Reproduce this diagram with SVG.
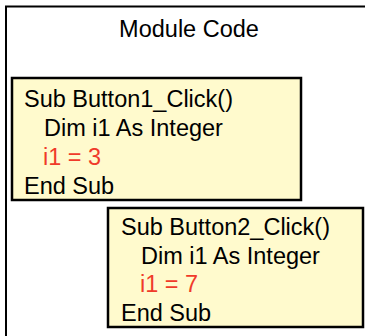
<svg xmlns="http://www.w3.org/2000/svg" width="365" height="336" viewBox="0 0 365 336">
<style>
.frame{fill:#fff;stroke:#000;stroke-width:2}
.box{fill:#FFFACD;stroke:#000;stroke-width:2.5}
text{font-family:"Liberation Sans",Arial,sans-serif;font-size:23.5px;fill:#000}
.red{fill:#F03A2A}
</style>
<rect width="365" height="336" fill="#fff"/>
<g id="module">
<rect class="frame" x="6" y="6.5" width="370" height="340"/>
<text x="189" y="37" text-anchor="middle">Module Code</text>
</g>
<g id="button1">
<rect class="box" x="12" y="78" width="289" height="122"/>
<text x="24" y="107">Sub Button1_Click()</text>
<text x="44" y="136">Dim i1 As Integer</text>
<text class="red" x="43" y="165">i1 = 3</text>
<text x="24" y="194">End Sub</text>
</g>
<g id="button2">
<rect class="box" x="108" y="208" width="255" height="119"/>
<text x="121" y="235">Sub Button2_Click()</text>
<text x="141" y="264">Dim i1 As Integer</text>
<text class="red" x="140" y="292">i1 = 7</text>
<text x="121" y="321">End Sub</text>
</g>
<g id="connectors"/>
</svg>
